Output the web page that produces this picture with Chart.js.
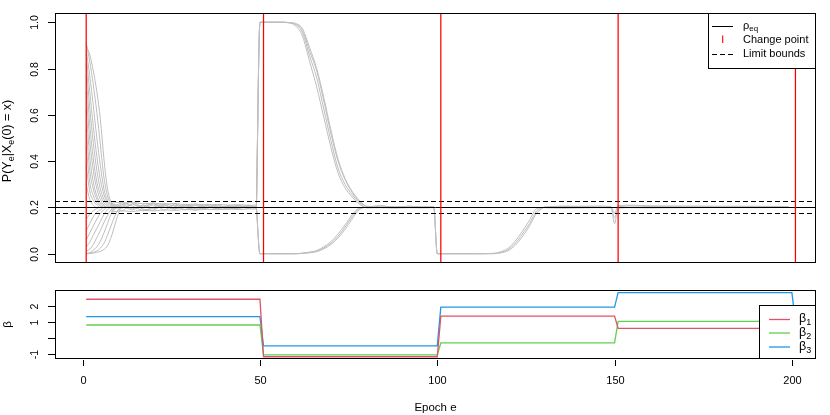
<!DOCTYPE html>
<html>
<head>
<meta charset="utf-8">
<script src="https://cdn.jsdelivr.net/npm/chart.js@4.4.0/dist/chart.umd.min.js"></script>
<style>
  body { margin: 0; background: #fff; }
  #wrap { position: relative; width: 830px; height: 415px; }
  canvas { position: absolute; left: 0; top: 0; }
</style>
</head>
<body>
<div id="wrap">
  <canvas id="chart-1" width="830" height="415"></canvas>
  <canvas id="chart-2" width="830" height="415"></canvas>
</div>
<script>
// ---- data ----
const changePoints = [1, 51, 101, 151, 201];
const rhoEq = 0.2;
const limitBounds = [0.23, 0.178];

const probTicks = [0, 0.2, 0.4, 0.6, 0.8, 1.0];
const epochTicks = [0, 50, 100, 150, 200];
const betaTicks = [-1, 0, 1, 2];
const betaTickLabels = ['-1', '', '1', '2'];

// start of the run: one curve per starting value
const fanEpochs = [1, 2, 3, 4, 5, 6, 7, 8, 9, 10, 11, 12];
const fanCurves = [
    [0.90, 0.86, 0.79, 0.70, 0.58, 0.41, 0.28, 0.225, 0.205, 0.20, 0.20, 0.20],
    [0.91, 0.83, 0.73, 0.61, 0.47, 0.33, 0.25, 0.215, 0.20, 0.20, 0.20, 0.20],
    [0.88, 0.77, 0.64, 0.50, 0.38, 0.28, 0.23, 0.21, 0.20, 0.20, 0.20, 0.20],
    [0.86, 0.70, 0.55, 0.42, 0.32, 0.255, 0.22, 0.205, 0.20, 0.20, 0.20, 0.20],
    [0.82, 0.63, 0.48, 0.36, 0.28, 0.235, 0.21, 0.20, 0.20, 0.20, 0.20, 0.20],
    [0.77, 0.56, 0.41, 0.31, 0.255, 0.22, 0.205, 0.20, 0.20, 0.20, 0.20, 0.20],
    [0.70, 0.49, 0.36, 0.28, 0.235, 0.21, 0.20, 0.20, 0.20, 0.20, 0.20, 0.20],
    [0.62, 0.42, 0.31, 0.25, 0.22, 0.205, 0.20, 0.20, 0.20, 0.20, 0.20, 0.20],
    [0.54, 0.36, 0.28, 0.235, 0.21, 0.20, 0.20, 0.20, 0.20, 0.20, 0.20, 0.20],
    [0.46, 0.31, 0.25, 0.22, 0.205, 0.20, 0.20, 0.20, 0.20, 0.20, 0.20, 0.20],
    [0.38, 0.27, 0.23, 0.21, 0.20, 0.20, 0.20, 0.20, 0.20, 0.20, 0.20, 0.20],
    [0.30, 0.235, 0.21, 0.20, 0.20, 0.20, 0.20, 0.20, 0.20, 0.20, 0.20, 0.20],
    [0.15, 0.17, 0.185, 0.195, 0.20, 0.20, 0.20, 0.20, 0.20, 0.20, 0.20, 0.20],
    [0.10, 0.13, 0.16, 0.18, 0.19, 0.20, 0.20, 0.20, 0.20, 0.20, 0.20, 0.20],
    [0.06, 0.09, 0.12, 0.15, 0.175, 0.19, 0.20, 0.20, 0.20, 0.20, 0.20, 0.20],
    [0.03, 0.05, 0.08, 0.11, 0.14, 0.17, 0.19, 0.20, 0.20, 0.20, 0.20, 0.20],
    [0.01, 0.02, 0.04, 0.07, 0.10, 0.135, 0.165, 0.19, 0.20, 0.20, 0.20, 0.20],
    [0.00, 0.005, 0.015, 0.03, 0.055, 0.09, 0.13, 0.17, 0.195, 0.20, 0.20, 0.20],
    [0.00, 0.002, 0.006, 0.012, 0.025, 0.045, 0.08, 0.12, 0.16, 0.19, 0.20, 0.20],
    [0.00, 0.001, 0.003, 0.006, 0.01, 0.018, 0.035, 0.07, 0.12, 0.17, 0.20, 0.20]
];

// noisy band around rho_eq before the first change
const bandEpochs = [8, 11, 14, 17, 20, 23, 26, 29, 32, 35, 38, 41, 44, 47, 49];
const bandCurves = [
    [0.225, 0.219, 0.222, 0.216, 0.219, 0.214, 0.217, 0.212, 0.215, 0.211, 0.213, 0.210, 0.212, 0.209, 0.210],
    [0.180, 0.186, 0.182, 0.188, 0.185, 0.190, 0.187, 0.191, 0.189, 0.192, 0.190, 0.193, 0.191, 0.194, 0.193],
    [0.212, 0.196, 0.215, 0.198, 0.211, 0.199, 0.210, 0.200, 0.208, 0.199, 0.207, 0.201, 0.206, 0.200, 0.204],
    [0.190, 0.214, 0.193, 0.211, 0.195, 0.209, 0.196, 0.208, 0.197, 0.207, 0.198, 0.206, 0.199, 0.205, 0.201],
    [0.218, 0.205, 0.189, 0.207, 0.216, 0.203, 0.192, 0.205, 0.212, 0.202, 0.194, 0.204, 0.209, 0.201, 0.197],
    [0.195, 0.222, 0.206, 0.185, 0.201, 0.218, 0.205, 0.190, 0.200, 0.214, 0.203, 0.193, 0.201, 0.210, 0.199],
    [0.220, 0.183, 0.217, 0.192, 0.188, 0.213, 0.194, 0.214, 0.193, 0.196, 0.211, 0.197, 0.195, 0.207, 0.202],
    [0.184, 0.210, 0.224, 0.201, 0.220, 0.186, 0.216, 0.199, 0.187, 0.209, 0.195, 0.208, 0.203, 0.196, 0.205]
];

// after change 51: curves that jump to 1 and come back down
const upperEpochs = [49, 50, 56, 58, 60, 62, 64, 66, 68, 70, 72, 74, 76, 78, 80, 82];
const upperCurves = [
    [0.20, 1.00, 1.00, 0.998, 0.985, 0.94, 0.83, 0.72, 0.59, 0.46, 0.35, 0.285, 0.245, 0.215, 0.20, 0.20],
    [0.20, 1.00, 1.00, 0.998, 0.99, 0.955, 0.855, 0.76, 0.625, 0.49, 0.37, 0.30, 0.255, 0.22, 0.20, 0.20],
    [0.20, 1.00, 1.00, 0.999, 0.993, 0.965, 0.875, 0.79, 0.66, 0.52, 0.40, 0.32, 0.265, 0.225, 0.205, 0.20],
    [0.20, 1.00, 1.00, 0.999, 0.995, 0.972, 0.89, 0.80, 0.675, 0.535, 0.41, 0.325, 0.27, 0.23, 0.205, 0.20]
];

// after change 51: curves that drop to 0 and climb back
const lowerEpochs = [49, 50, 60, 62, 64, 66, 68, 70, 72, 74, 76, 78, 80, 82];
const lowerCurves = [
    [0.20, 0.00, 0.00, 0.002, 0.005, 0.011, 0.025, 0.045, 0.075, 0.115, 0.16, 0.195, 0.20, 0.20],
    [0.20, 0.00, 0.00, 0.003, 0.007, 0.014, 0.03, 0.052, 0.085, 0.125, 0.168, 0.198, 0.20, 0.20],
    [0.20, 0.00, 0.00, 0.001, 0.004, 0.009, 0.021, 0.04, 0.068, 0.105, 0.15, 0.19, 0.20, 0.20]
];

// plateau, drop at change 101, climb back
const midEpochs = [80, 84, 88, 92, 96, 99, 100, 110, 116, 118, 120, 122, 124, 126, 128, 130];
const midCurves = [
    [0.205, 0.203, 0.204, 0.202, 0.203, 0.202, 0.00, 0.00, 0.001, 0.006, 0.018, 0.045, 0.085, 0.13, 0.185, 0.20],
    [0.198, 0.199, 0.197, 0.199, 0.198, 0.199, 0.00, 0.00, 0.002, 0.009, 0.024, 0.055, 0.097, 0.145, 0.195, 0.20],
    [0.201, 0.208, 0.200, 0.206, 0.201, 0.204, 0.00, 0.00, 0.000, 0.004, 0.013, 0.037, 0.074, 0.12, 0.175, 0.20]
];

// last part with the small dip at change 151
const lateEpochs = [130, 135, 140, 145, 149, 150, 151, 155, 160, 170, 180, 190, 199];
const lateCurves = [
    [0.202, 0.204, 0.203, 0.202, 0.201, 0.13, 0.203, 0.206, 0.204, 0.203, 0.202, 0.203, 0.202],
    [0.199, 0.197, 0.198, 0.199, 0.198, 0.155, 0.197, 0.199, 0.198, 0.199, 0.200, 0.199, 0.200],
    [0.200, 0.206, 0.205, 0.206, 0.204, 0.175, 0.208, 0.210, 0.207, 0.206, 0.205, 0.205, 0.204]
];

const betaEpochs = [1, 50, 51, 100, 101, 150, 151, 200, 201];
const beta1 = [2.41, 2.41, -1.14, -1.14, 1.37, 1.37, 0.61, 0.61, 1.0];
const beta2 = [0.82, 0.82, -1.02, -1.02, -0.29, -0.29, 1.04, 1.04, 1.0];
const beta3 = [1.34, 1.34, -0.47, -0.47, 1.92, 1.92, 2.82, 2.82, 1.0];

// ---- drawing ----
const FONT = '"Liberation Sans", Arial, Helvetica, sans-serif';
const GREY = '#bebebe';
const betaColors = ['#DF536B', '#61D04F', '#2297E6'];

function curveSets(epochs, curves, smooth) {
    return curves.map(vals => ({
        data: vals.map((v, i) => ({ x: epochs[i], y: v })),
        showLine: true,
        borderColor: GREY,
        borderWidth: 1,
        pointRadius: 0,
        tension: 0,
        cubicInterpolationMode: smooth ? 'monotone' : 'default'
    }));
}

function hline(c, a, py) {
    c.beginPath(); c.moveTo(a.left, py); c.lineTo(a.right, py); c.stroke();
}
function vline(c, a, px) {
    c.beginPath(); c.moveTo(px, a.top); c.lineTo(px, a.bottom); c.stroke();
}
function drawBox(c, a) {
    c.save();
    c.strokeStyle = '#000';
    c.lineWidth = 1;
    c.strokeRect(Math.round(a.left) + 0.5, Math.round(a.top) + 0.5,
        Math.round(a.right - a.left) - 1, Math.round(a.bottom - a.top) - 1);
    c.restore();
}
// parts: plain strings, or ['x'] for a subscript
function richText(c, parts, x, y, size, align) {
    const sub = p => Array.isArray(p);
    let w = 0;
    parts.forEach(p => {
        c.font = (sub(p) ? size * 0.72 : size) + 'px ' + FONT;
        w += c.measureText(sub(p) ? p[0] : p).width;
    });
    let cx = align === 'center' ? x - w / 2 : x;
    c.textAlign = 'left';
    c.textBaseline = 'middle';
    parts.forEach(p => {
        const t = sub(p) ? p[0] : p;
        c.font = (sub(p) ? size * 0.72 : size) + 'px ' + FONT;
        c.fillText(t, cx, sub(p) ? y + size * 0.3 : y);
        cx += c.measureText(t).width;
    });
}
function rotated(c, x, y, fn) {
    c.save(); c.translate(x, y); c.rotate(-Math.PI / 2); fn(); c.restore();
}
function yAxis(c, a, scale, ticks, labels, size) {
    c.save();
    c.strokeStyle = '#000'; c.fillStyle = '#000'; c.lineWidth = 1;
    ticks.forEach((v, i) => {
        const py = Math.round(scale.getPixelForValue(v)) + 0.5;
        c.beginPath(); c.moveTo(a.left - 7, py); c.lineTo(a.left, py); c.stroke();
        if (labels[i] !== '') {
            rotated(c, 35, py, () => {
                c.font = size + 'px ' + FONT;
                c.textAlign = 'center'; c.textBaseline = 'middle';
                c.fillText(labels[i], 0, 0);
            });
        }
    });
    c.restore();
}

const topDecor = {
    id: 'topDecor',
    afterDatasetsDraw(chart) {
        const c = chart.ctx, a = chart.chartArea;
        const xs = chart.scales.x, ys = chart.scales.y;
        c.save();
        c.beginPath(); c.rect(a.left, a.top, a.right - a.left, a.bottom - a.top); c.clip();
        c.strokeStyle = '#000'; c.lineWidth = 1;
        hline(c, a, Math.round(ys.getPixelForValue(rhoEq)) + 0.5);
        c.setLineDash([5, 3]);
        limitBounds.forEach(b => hline(c, a, Math.round(ys.getPixelForValue(b)) + 0.5));
        c.setLineDash([]);
        c.strokeStyle = '#ff0000'; c.lineWidth = 1.25;
        changePoints.forEach(cp => vline(c, a, xs.getPixelForValue(cp)));
        c.restore();

        drawBox(c, a);
        yAxis(c, a, ys, probTicks, probTicks.map(v => v.toFixed(1)), 10.5);

        c.save();
        c.fillStyle = '#000';
        rotated(c, 8, (a.top + a.bottom) / 2 + 3, () => {
            richText(c, ['P(Y', ['e'], '|X', ['e'], '(0) = x)'], 0, 0, 12.5, 'center');
        });

        // legend box
        const L = { left: 708.5, top: a.top + 0.5, right: a.right - 0.5, bottom: 68.5 };
        c.fillStyle = '#fff';
        c.fillRect(L.left, L.top, L.right - L.left, L.bottom - L.top);
        c.strokeStyle = '#000'; c.lineWidth = 1;
        c.strokeRect(L.left, L.top, L.right - L.left, L.bottom - L.top);
        c.fillStyle = '#000';
        const rows = [26, 40, 54];
        c.beginPath(); c.moveTo(712, rows[0] + 0.5); c.lineTo(733, rows[0] + 0.5); c.stroke();
        c.strokeStyle = '#ff0000'; c.lineWidth = 1.1;
        c.beginPath(); c.moveTo(722.7, rows[1] - 4.5); c.lineTo(722.7, rows[1] + 3); c.stroke();
        c.strokeStyle = '#000'; c.lineWidth = 1;
        c.setLineDash([5, 3]);
        c.beginPath(); c.moveTo(712, rows[2] + 0.5); c.lineTo(733, rows[2] + 0.5); c.stroke();
        c.setLineDash([]);
        richText(c, ['\u03c1', ['eq']], 743, rows[0], 11, 'left');
        richText(c, ['Change point'], 743, rows[1], 11, 'left');
        richText(c, ['Limit bounds'], 743, rows[2], 11, 'left');
        c.restore();
    }
};

const bottomDecor = {
    id: 'bottomDecor',
    afterDatasetsDraw(chart) {
        const c = chart.ctx, a = chart.chartArea;
        const xs = chart.scales.x, ys = chart.scales.y;
        drawBox(c, a);
        yAxis(c, a, ys, betaTicks, betaTickLabels, 10.5);

        c.save();
        c.strokeStyle = '#000'; c.fillStyle = '#000'; c.lineWidth = 1;
        epochTicks.forEach(v => {
            const px = Math.round(xs.getPixelForValue(v)) + 0.5;
            c.beginPath(); c.moveTo(px, a.bottom + 1); c.lineTo(px, a.bottom + 7); c.stroke();
            c.font = '11px ' + FONT;
            c.textAlign = 'center'; c.textBaseline = 'middle';
            c.fillText(String(v), px, 381);
        });
        richText(c, ['Epoch e'], (a.left + a.right) / 2, 408, 11.5, 'center');
        rotated(c, 8, (a.top + a.bottom) / 2, () => {
            richText(c, ['\u03b2'], 0, 0, 11.5, 'center');
        });

        const L = { left: 759.5, top: 305.5, right: a.right - 0.5, bottom: a.bottom - 0.5 };
        c.fillStyle = '#fff';
        c.fillRect(L.left, L.top, L.right - L.left, L.bottom - L.top);
        c.strokeRect(L.left, L.top, L.right - L.left, L.bottom - L.top);
        const rows = [319, 332.5, 346.5];
        rows.forEach((ry, i) => {
            c.strokeStyle = betaColors[i]; c.lineWidth = 1.3;
            c.beginPath(); c.moveTo(769, ry + 0.5); c.lineTo(790, ry + 0.5); c.stroke();
            c.fillStyle = '#000';
            richText(c, ['\u03b2', [String(i + 1)]], 799, ry, 12.5, 'left');
        });
        c.restore();
    }
};

const xRange = { type: 'linear', min: -7.8, max: 206.8, display: false };

const topSets = [].concat(
    curveSets(fanEpochs, fanCurves, true),
    curveSets(bandEpochs, bandCurves, false),
    curveSets(upperEpochs, upperCurves, true),
    curveSets(lowerEpochs, lowerCurves, true),
    curveSets(midEpochs, midCurves, true),
    curveSets(lateEpochs, lateCurves, true)
);

const ctx = document.getElementById('chart-1').getContext('2d');
new Chart(ctx, {
    type: 'scatter',
    data: { datasets: topSets },
    options: {
        responsive: false,
        animation: false,
        layout: { padding: { left: 55, right: 14, top: 13, bottom: 152 } },
        plugins: { legend: { display: false }, tooltip: { enabled: false } },
        scales: {
            x: xRange,
            y: { type: 'linear', min: -0.04, max: 1.04, display: false }
        }
    },
    plugins: [topDecor]
});

const betaSets = [beta1, beta2, beta3].map((vals, i) => ({
    data: vals.map((v, j) => ({ x: betaEpochs[j], y: v })),
    showLine: true,
    borderColor: betaColors[i],
    borderWidth: 1.3,
    pointRadius: 0,
    tension: 0
}));

const ctx2 = document.getElementById('chart-2').getContext('2d');
new Chart(ctx2, {
    type: 'scatter',
    data: { datasets: betaSets },
    options: {
        responsive: false,
        animation: false,
        layout: { padding: { left: 55, right: 14, top: 290, bottom: 56 } },
        plugins: { legend: { display: false }, tooltip: { enabled: false } },
        scales: {
            x: xRange,
            y: { type: 'linear', min: -1.28, max: 2.98, display: false }
        }
    },
    plugins: [bottomDecor]
});
</script>
</body>
</html>
